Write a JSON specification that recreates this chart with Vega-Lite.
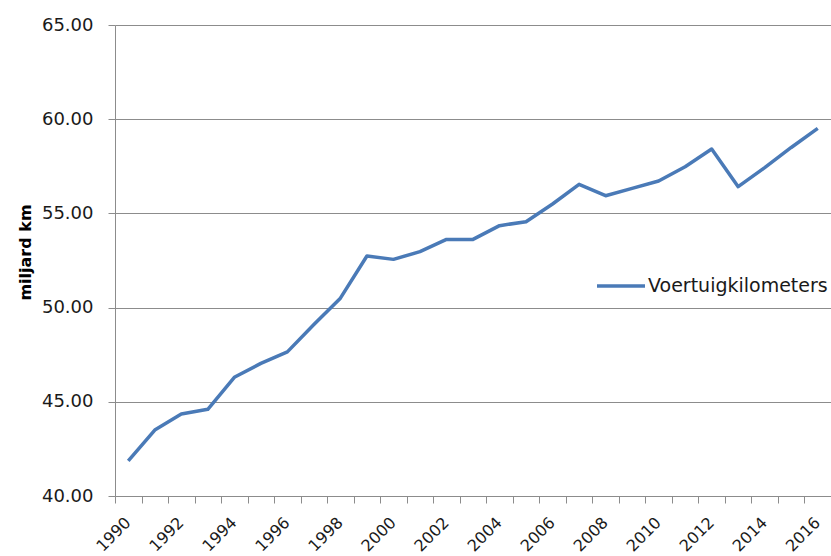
{
  "$schema": "https://vega.github.io/schema/vega-lite/v6.json",
  "autosize": {"type": "none"},
  "width": 716,
  "height": 471,
  "padding": {"left": 115, "top": 25, "right": 0, "bottom": 60},
  "background": "white",
  "config": {
    "view": {"stroke": null},
    "font": "DejaVu Sans"
  },
  "data": {
    "values": [
      {"year": "1990", "value": 41.86, "series": "Voertuigkilometers"},
      {"year": "1991", "value": 43.5, "series": "Voertuigkilometers"},
      {"year": "1992", "value": 44.35, "series": "Voertuigkilometers"},
      {"year": "1993", "value": 44.6, "series": "Voertuigkilometers"},
      {"year": "1994", "value": 46.3, "series": "Voertuigkilometers"},
      {"year": "1995", "value": 47.04, "series": "Voertuigkilometers"},
      {"year": "1996", "value": 47.65, "series": "Voertuigkilometers"},
      {"year": "1997", "value": 49.1, "series": "Voertuigkilometers"},
      {"year": "1998", "value": 50.5, "series": "Voertuigkilometers"},
      {"year": "1999", "value": 52.74, "series": "Voertuigkilometers"},
      {"year": "2000", "value": 52.56, "series": "Voertuigkilometers"},
      {"year": "2001", "value": 52.97, "series": "Voertuigkilometers"},
      {"year": "2002", "value": 53.62, "series": "Voertuigkilometers"},
      {"year": "2003", "value": 53.62, "series": "Voertuigkilometers"},
      {"year": "2004", "value": 54.35, "series": "Voertuigkilometers"},
      {"year": "2005", "value": 54.56, "series": "Voertuigkilometers"},
      {"year": "2006", "value": 55.5, "series": "Voertuigkilometers"},
      {"year": "2007", "value": 56.54, "series": "Voertuigkilometers"},
      {"year": "2008", "value": 55.94, "series": "Voertuigkilometers"},
      {"year": "2009", "value": 56.33, "series": "Voertuigkilometers"},
      {"year": "2010", "value": 56.72, "series": "Voertuigkilometers"},
      {"year": "2011", "value": 57.48, "series": "Voertuigkilometers"},
      {"year": "2012", "value": 58.42, "series": "Voertuigkilometers"},
      {"year": "2013", "value": 56.42, "series": "Voertuigkilometers"},
      {"year": "2014", "value": 57.43, "series": "Voertuigkilometers"},
      {"year": "2015", "value": 58.5, "series": "Voertuigkilometers"},
      {"year": "2016", "value": 59.51, "series": "Voertuigkilometers"}
    ]
  },
  "mark": {"type": "line", "strokeWidth": 3.5, "strokeJoin": "round"},
  "encoding": {
    "x": {
      "field": "year",
      "type": "ordinal",
      "scale": {"type": "point", "padding": 0.5},
      "axis": {
        "title": null,
        "grid": false,
        "domainColor": "#8c8c8c",
        "tickColor": "#8c8c8c",
        "tickSize": 7,
        "tickOffset": -13.26,
        "labelOffset": 7,
        "labelAngle": -45,
        "labelFontSize": 16,
        "labelColor": "#1a1a1a",
        "labelPadding": 11,
        "labelExpr": "parseInt(datum.value) % 2 == 0 ? datum.label : ''"
      }
    },
    "y": {
      "field": "value",
      "type": "quantitative",
      "scale": {"domain": [40, 65], "nice": false, "zero": false},
      "axis": {
        "title": "miljard km",
        "titleFontSize": 16,
        "titleFontWeight": "bold",
        "titleColor": "#000000",
        "titlePadding": 8,
        "titleY": 227,
        "values": [40, 45, 50, 55, 60, 65],
        "format": ".2f",
        "grid": true,
        "gridColor": "#8c8c8c",
        "gridWidth": 1.2,
        "domainColor": "#8c8c8c",
        "tickColor": "#8c8c8c",
        "tickSize": 7,
        "labelFontSize": 18,
        "labelColor": "#1a1a1a",
        "labelPadding": 15
      }
    },
    "color": {
      "field": "series",
      "type": "nominal",
      "scale": {"range": ["#4a7ab7"]},
      "legend": {
        "title": null,
        "orient": "none",
        "legendX": 480,
        "legendY": 235,
        "padding": 0,
        "symbolType": "stroke",
        "symbolSize": 2304,
        "symbolStrokeWidth": 3.5,
        "labelFontSize": 19,
        "labelColor": "#1a1a1a",
        "labelOffset": 1,
        "labelLimit": 400
      }
    }
  }
}
